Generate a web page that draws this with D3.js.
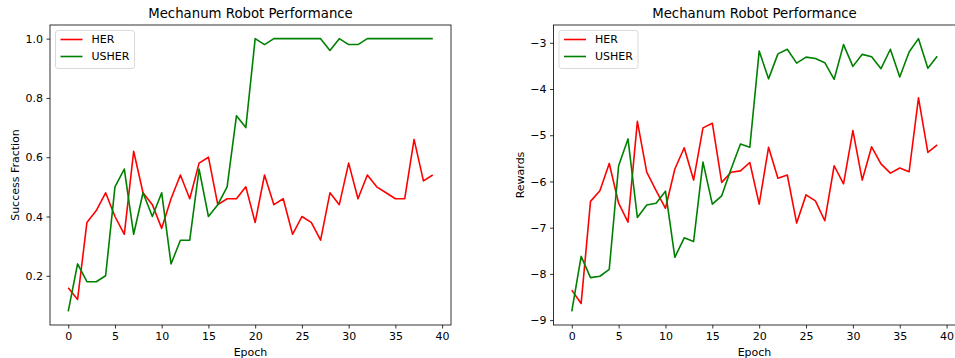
<!DOCTYPE html>
<html>
<head>
<meta charset="utf-8">
<script src="https://cdn.jsdelivr.net/npm/d3@7"></script>
<style>
  body { margin: 0; background: #fff; }
  svg { font-family: "DejaVu Sans", sans-serif; }
</style>
</head>
<body>
<svg id="chart" width="955" height="358"></svg>
<script>
const epochs = d3.range(0, 40)

const herSuccess = [0.16, 0.12, 0.38, 0.42, 0.48, 0.40, 0.34, 0.62, 0.48, 0.44,
    0.36, 0.46, 0.54, 0.46, 0.58, 0.60, 0.44, 0.46, 0.46, 0.50,
    0.38, 0.54, 0.44, 0.46, 0.34, 0.40, 0.38, 0.32, 0.48, 0.44,
    0.58, 0.46, 0.54, 0.50, 0.48, 0.46, 0.46, 0.66, 0.52, 0.54]
const usherSuccess = [0.08, 0.24, 0.18, 0.18, 0.20, 0.50, 0.56, 0.34, 0.48, 0.40,
    0.48, 0.24, 0.32, 0.32, 0.56, 0.40, 0.44, 0.50, 0.74, 0.70,
    1.0, 0.98, 1.0, 1.0, 1.0, 1.0, 1.0, 1.0, 0.96, 1.0,
    0.98, 0.98, 1.0, 1.0, 1.0, 1.0, 1.0, 1.0, 1.0, 1.0]

const herRewards = [-8.35, -8.64, -6.43, -6.20, -5.61, -6.47, -6.88, -4.70, -5.80, -6.20,
    -6.58, -5.73, -5.27, -5.97, -4.84, -4.74, -6.02, -5.80, -5.77, -5.59,
    -6.49, -5.26, -5.93, -5.86, -6.90, -6.29, -6.42, -6.85, -5.66, -6.05,
    -4.90, -5.97, -5.25, -5.62, -5.82, -5.71, -5.79, -4.19, -5.37, -5.21]
const usherRewards = [-8.81, -7.62, -8.08, -8.05, -7.90, -5.66, -5.08, -6.78, -6.51, -6.47,
    -6.21, -7.64, -7.22, -7.30, -5.58, -6.49, -6.31, -5.73, -5.19, -5.26,
    -3.18, -3.78, -3.24, -3.14, -3.44, -3.31, -3.34, -3.43, -3.79, -3.04,
    -3.51, -3.25, -3.30, -3.56, -3.14, -3.74, -3.20, -2.91, -3.55, -3.29]

const xTicks = [0, 5, 10, 15, 20, 25, 30, 35, 40]
const successTicks = [0.2, 0.4, 0.6, 0.8, 1.0]
const rewardTicks = [-9, -8, -7, -6, -5, -4, -3]

const seriesNames = ['HER', 'USHER']
const seriesColors = ['#ff0000', '#008000']

const svg = d3.select('#chart')

const drawPanel = (opts) => {
    const g = svg.append('g').attr('transform', `translate(${opts.left},${opts.top})`)
    const w = opts.width, h = opts.height

    // matplotlib style 5% margins
    const all = opts.series.flat()
    const lo = d3.min(all), hi = d3.max(all)
    const pad = (hi - lo) * 0.05
    const x = d3.scaleLinear().domain([-1.95, 40.95]).range([0, w])
    const y = d3.scaleLinear().domain([lo - pad, hi + pad]).range([h, 0])

    const xAxis = d3.axisBottom(x).tickValues(xTicks).tickSize(3.5).tickPadding(3.5).tickFormat(d3.format('d'))
    const yAxis = d3.axisLeft(y).tickValues(opts.yTicks).tickSize(3.5).tickPadding(3.5).tickFormat(opts.yFormat)

    const line = d3.line().x((d, i) => x(epochs[i])).y(d => y(d))

    opts.series.forEach((s, k) => {
        g.append('path')
            .datum(s)
            .attr('fill', 'none')
            .attr('stroke', seriesColors[k])
            .attr('stroke-width', 1.6)
            .attr('stroke-linejoin', 'round')
            .attr('d', line)
    })

    const xg = g.append('g').attr('transform', `translate(0,${h})`).call(xAxis)
    const yg = g.append('g').call(yAxis)
    ;[xg, yg].forEach(a => {
        a.select('.domain').remove()
        a.selectAll('line').attr('stroke', '#000').attr('stroke-width', 0.8)
        a.selectAll('text').attr('font-size', 11).attr('fill', '#000')
            .attr('font-family', '"DejaVu Sans", sans-serif')
    })

    g.append('rect')
        .attr('width', w).attr('height', h)
        .attr('fill', 'none').attr('stroke', '#000').attr('stroke-width', 0.8)

    g.append('text')
        .attr('x', w / 2).attr('y', -7.5)
        .attr('text-anchor', 'middle')
        .attr('font-size', 13.3)
        .text('Mechanum Robot Performance')

    g.append('text')
        .attr('x', w / 2).attr('y', h + 31)
        .attr('text-anchor', 'middle')
        .attr('font-size', 11)
        .text('Epoch')

    g.append('text')
        .attr('transform', `translate(${opts.yLabelX},${h / 2}) rotate(-90)`)
        .attr('text-anchor', 'middle')
        .attr('font-size', 11)
        .text(opts.yLabel)

    // legend
    const lg = g.append('g').attr('transform', 'translate(5.5,5.5)')
    lg.append('rect')
        .attr('width', 79).attr('height', 38)
        .attr('rx', 2.5)
        .attr('fill', '#fff').attr('fill-opacity', 0.8)
        .attr('stroke', '#d0d0d0').attr('stroke-width', 0.8)
    seriesNames.forEach((name, k) => {
        const cy = 9 + k * 17
        lg.append('line')
            .attr('x1', 5).attr('x2', 27).attr('y1', cy).attr('y2', cy)
            .attr('stroke', seriesColors[k]).attr('stroke-width', 1.6)
        lg.append('text')
            .attr('x', 36).attr('y', cy).attr('dy', '0.35em')
            .attr('font-size', 11)
            .text(name)
    })
}

drawPanel({
    left: 50, top: 25, width: 401, height: 300,
    series: [herSuccess, usherSuccess],
    yTicks: successTicks, yFormat: d3.format('.1f'),
    yLabel: 'Success Fraction', yLabelX: -31
})

drawPanel({
    left: 553.5, top: 25, width: 402, height: 300,
    series: [herRewards, usherRewards],
    yTicks: rewardTicks, yFormat: d => d3.format('d')(d).replace('-', '\u2212'),
    yLabel: 'Rewards', yLabelX: -29.5
})
</script>
</body>
</html>
